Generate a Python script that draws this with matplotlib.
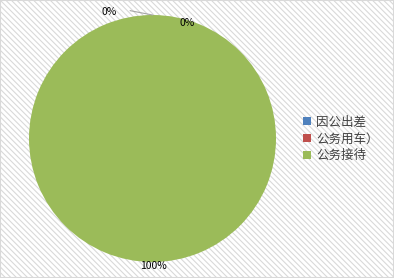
import matplotlib
matplotlib.use("Agg")
import matplotlib.pyplot as plt
from matplotlib.patches import Rectangle

plt.rcParams['font.family'] = ['Noto Sans CJK SC', 'DejaVu Sans']
plt.rcParams['hatch.linewidth'] = 0.8
plt.rcParams['hatch.color'] = '#ebebeb'

# data
categories = ['因公出差', '公务用车）', '公务接待']
values = [0, 0, 100]
colors = ['#4F81BD', '#C0504D', '#9BBB59']

W, H = 394, 278
fig = plt.figure(figsize=(W / 100, H / 100), dpi=100)

# hatched background with a light border
bg = Rectangle((0, 0), 1, 1, transform=fig.transFigure, facecolor='white',
               edgecolor='#d9d9d9', hatch='\\' * 6, linewidth=1.5, zorder=-10)
fig.patches.append(bg)

cx, cy, r = 152.5, 138.5, 123.5
ax = fig.add_axes([(cx - r) / W, (H - cy - r) / H, 2 * r / W, 2 * r / H])

wedges, _ = ax.pie(values, colors=colors, startangle=90, counterclock=False,
                   radius=1, wedgeprops=dict(linewidth=0))
ax.set_xlim(-1, 1)
ax.set_ylim(-1, 1)
ax.set_aspect('equal')
ax.axis('off')

# percentage labels
total = sum(values)
pct = ['%d%%' % round(v * 100 / total) for v in values]
ax.plot([-0.18, 0.0], [1.035, 1.0], color='#a6a6a6', lw=0.8, clip_on=False)
ax.text(-0.35, 1.024, pct[0], ha='center', va='center', fontsize=7.5, color='black', clip_on=False)
ax.text(0.28, 0.935, pct[1], ha='center', va='center', fontsize=7.5, color='black')
ax.text(0.005, -1.032, pct[2], ha='center', va='center', fontsize=7.5, color='black', clip_on=False)

leg = fig.legend(wedges, categories, loc='center left', bbox_to_anchor=(303 / W, 1 - 139 / H),
                 frameon=False, fontsize=9, handlelength=0.6, handleheight=0.6,
                 handletextpad=0.45, labelspacing=0.3, borderaxespad=0, borderpad=0)
for t in leg.get_texts():
    t.set_color('#404040')

fig.savefig('out.png', dpi=100)
